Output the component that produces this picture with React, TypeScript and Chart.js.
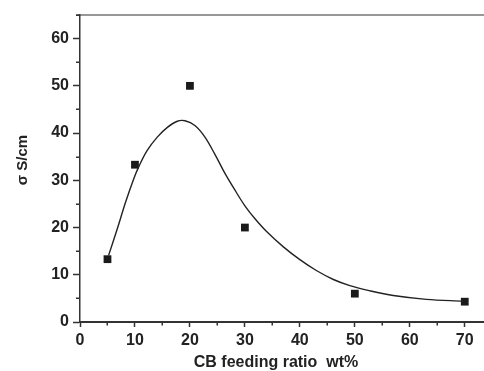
import React, { useEffect, useRef } from "react";
import { Chart, registerables } from "chart.js";

Chart.register(...registerables);

// measured points
const feedRatio = [5, 10, 20, 30, 50, 70];
const sigma = [13.3, 33.3, 50, 20, 6, 4.3];

// fitted curve
const fitX = [5.2, 6.8, 8.3, 9.8, 10.7, 12.2, 14.1, 15.9, 17.7, 19.1, 20.9, 22.7, 24.5, 26.4, 28.2, 30, 31.8, 33.9, 37, 40, 43, 46.1, 49.1, 52.4, 57, 63, 69.7];
const fitY = [14.1, 19.8, 25.4, 30.4, 32.9, 36.3, 39.2, 41.2, 42.5, 42.6, 41.6, 39.2, 35.6, 31.4, 27.9, 24.6, 21.9, 19.2, 15.9, 13.2, 10.9, 9.0, 7.7, 6.7, 5.6, 4.8, 4.4];

const xTitle = "CB feeding ratio  wt%";
const yTitle = "σ S/cm";
const xMajorLabels = [0, 10, 20, 30, 40, 50, 60, 70];
const yMajorLabels = [0, 10, 20, 30, 40, 50, 60];

const FONT = "'Liberation Sans', Arial, sans-serif";

const isMajor = (v: number) => Math.abs(v / 10 - Math.round(v / 10)) < 1e-6;

const framePlugin = {
  id: "frame",
  afterDraw(chart: any) {
    const { ctx, chartArea } = chart;
    ctx.save();
    ctx.strokeStyle = "#333";
    ctx.lineWidth = 1.2;
    ctx.beginPath();
    ctx.moveTo(chartArea.left - 4, chartArea.top);
    ctx.lineTo(chartArea.right, chartArea.top);
    ctx.stroke();
    // minor ticks (shorter)
    ctx.lineWidth = 1.5;
    const sx = chart.scales.x;
    const sy = chart.scales.y;
    ctx.beginPath();
    sx.ticks.forEach((t: any) => {
      if (!isMajor(t.value)) {
        const px = Math.round(sx.getPixelForValue(t.value)) + 0.25;
        ctx.moveTo(px, chartArea.bottom);
        ctx.lineTo(px, chartArea.bottom + 3.5);
      }
    });
    sy.ticks.forEach((t: any) => {
      if (!isMajor(t.value)) {
        const py = Math.round(sy.getPixelForValue(t.value)) + 0.25;
        ctx.moveTo(chartArea.left, py);
        ctx.lineTo(chartArea.left - 4, py);
      }
    });
    ctx.stroke();
    // axis titles
    ctx.fillStyle = "#222";
    ctx.font = `bold 16px ${FONT}`;
    ctx.textAlign = "center";
    ctx.textBaseline = "alphabetic";
    ctx.fillText(xTitle, 276, 367);
    ctx.translate(27, 160);
    ctx.rotate(-Math.PI / 2);
    ctx.font = `bold 15px ${FONT}`;
    ctx.fillText(yTitle, 0, 0);
    ctx.restore();
  },
};

const keepFives = (s: any) => {
  s.ticks = s.ticks.filter((t: any) => Math.abs(t.value / 5 - Math.round(t.value / 5)) < 1e-6);
};

const majorTickColor = (c: any) => (c.tick && isMajor(c.tick.value) ? "#333" : "rgba(0,0,0,0)");

export default function App() {
  const ref = useRef<HTMLCanvasElement | null>(null);

  useEffect(() => {
    if (!ref.current) return;
    const chart = new Chart(ref.current, {
      type: "scatter",
      data: {
        datasets: [
          {
            label: "fit",
            data: fitX.map((x, i) => ({ x, y: fitY[i] })),
            showLine: true,
            borderColor: "#222",
            borderWidth: 1.4,
            pointRadius: 0,
            tension: 0.35,
            fill: false,
          } as any,
          {
            label: "data",
            data: feedRatio.map((x, i) => ({ x, y: sigma[i] })),
            pointStyle: "rect",
            pointRadius: 5.5,
            backgroundColor: "#1a1a1a",
            borderColor: "#1a1a1a",
            borderWidth: 0,
          },
        ],
      },
      options: {
        responsive: false,
        animation: false,
        devicePixelRatio: 1,
        layout: { autoPadding: false, padding: { top: 15, right: 0, left: 0, bottom: 0 } },
        plugins: { legend: { display: false }, tooltip: { enabled: false } },
        scales: {
          x: {
            type: "linear",
            bounds: "data",
            min: 0,
            max: 73.5,
            afterBuildTicks: keepFives,
            afterFit: (s: any) => {
              s.height = 49;
              s.paddingRight = 0;
              s.paddingLeft = 0;
            },
            ticks: {
              stepSize: 5,
              includeBounds: false,
              autoSkip: false,
              maxRotation: 0,
              padding: 4,
              color: "#222",
              font: { family: FONT, size: 16, weight: "bold" },
              callback: (v: any) => (xMajorLabels.includes(Number(v)) ? String(v) : ""),
            },
            grid: {
              drawOnChartArea: false,
              drawTicks: true,
              tickLength: 5,
              tickColor: majorTickColor,
              tickWidth: 1.5,
            },
            border: { color: "#333", width: 2 },
          },
          y: {
            type: "linear",
            bounds: "data",
            min: 0,
            max: 65,
            afterBuildTicks: keepFives,
            afterFit: (s: any) => {
              s.width = 80;
              s.paddingTop = 0;
              s.paddingBottom = 0;
            },
            ticks: {
              stepSize: 5,
              includeBounds: false,
              autoSkip: false,
              padding: 4,
              color: "#222",
              font: { family: FONT, size: 16, weight: "bold" },
              callback: (v: any) => (yMajorLabels.includes(Number(v)) ? String(v) : ""),
            },
            grid: {
              drawOnChartArea: false,
              drawTicks: true,
              tickLength: 7,
              tickColor: majorTickColor,
              tickWidth: 1.5,
            },
            border: { color: "#333", width: 1.5 },
          },
        },
      },
      plugins: [framePlugin],
    });
    return () => chart.destroy();
  }, []);

  return (
    <canvas
      ref={ref}
      width={484}
      height={371}
      style={{ position: "absolute", left: 0, top: 0, width: 484, height: 371, display: "block" }}
    />
  );
}
